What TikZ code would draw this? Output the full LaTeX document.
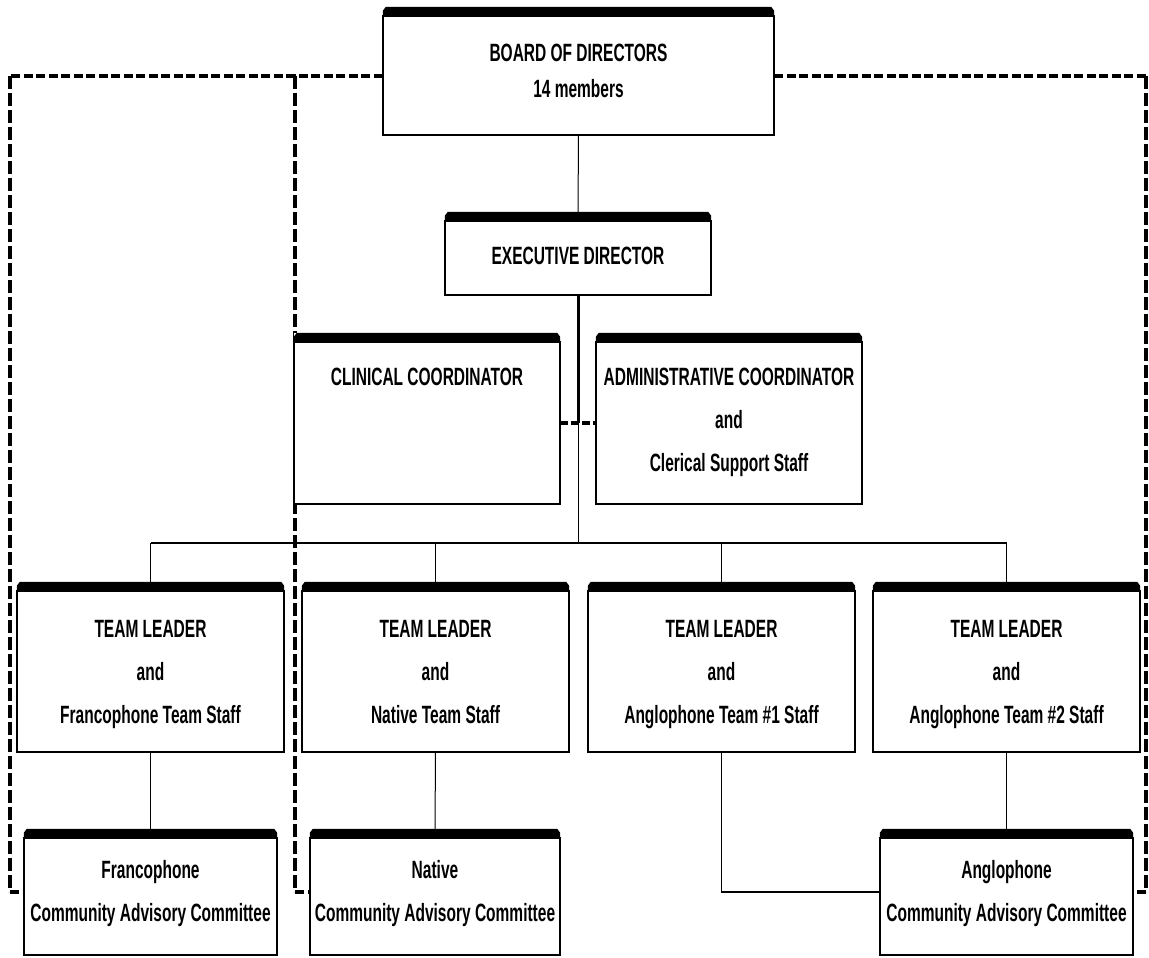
\documentclass[tikz,border=0pt]{standalone}
\usepackage{fontspec}
\setmainfont{Liberation Sans}[FakeStretch=0.62]
\usetikzlibrary{backgrounds}
\newcommand\boxtext[2]{\raisebox{#1}[0pt][0pt]{\begin{tabular}[c]{@{}c@{}}#2\end{tabular}}}
\tikzset{
  obox/.style={fill=white, inner sep=0pt, align=center,
    font=\bfseries\fontsize{25}{43}\selectfont},
  hdash/.style={line width=4pt, dash pattern=on 9pt off 3.5pt},
  vdash/.style={line width=3.2pt, dash pattern=on 13pt off 4pt},
  jdash/.style={line width=4pt, dash pattern=on 8pt off 3pt},
  conn/.style={line width=1pt},
  busline/.style={line width=1.8pt},
  trunk/.style={line width=3pt}
}
\begin{document}
\begin{tikzpicture}[x=1pt,y=-1pt]
\useasboundingbox (0,0) rectangle (1149,958);
% boxes
\node[obox, minimum width=391pt, minimum height=128pt, font=\bfseries\fontsize{25}{36}\selectfont] (board) at (578.5,71) {\boxtext{-7.5pt}{BOARD OF DIRECTORS\\14 members}};
\node[obox, minimum width=266pt, minimum height=83pt] (exec) at (578,253.5) {\boxtext{-8.5pt}{EXECUTIVE DIRECTOR}};
\node[obox, minimum width=266pt, minimum height=171pt] (clin) at (427,418.5) {\boxtext{-7.5pt}{CLINICAL COORDINATOR\\\mbox{}\\\mbox{}}};
\node[obox, minimum width=266pt, minimum height=171pt] (adm) at (729,418.5) {\boxtext{-7.5pt}{ADMINISTRATIVE COORDINATOR\\and\\Clerical Support Staff}};
\node[obox, minimum width=267pt, minimum height=170pt] (t1) at (150.5,667) {\boxtext{-11pt}{TEAM LEADER\\and\\Francophone Team Staff}};
\node[obox, minimum width=267pt, minimum height=170pt] (t2) at (435.5,667) {\boxtext{-11pt}{TEAM LEADER\\and\\Native Team Staff}};
\node[obox, minimum width=267pt, minimum height=170pt] (t3) at (721.5,667) {\boxtext{-11pt}{TEAM LEADER\\and\\Anglophone Team \#1 Staff}};
\node[obox, minimum width=267pt, minimum height=170pt] (t4) at (1006.5,667) {\boxtext{-11pt}{TEAM LEADER\\and\\Anglophone Team \#2 Staff}};
\node[obox, minimum width=253pt, minimum height=126pt] (fc) at (150.5,892) {\boxtext{-5.5pt}{Francophone\\Community Advisory Committee}};
\node[obox, minimum width=250pt, minimum height=126pt] (nc) at (435,892) {\boxtext{-5.5pt}{Native\\Community Advisory Committee}};
\node[obox, minimum width=253pt, minimum height=126pt] (ac) at (1006.5,892) {\boxtext{-5.5pt}{Anglophone\\Community Advisory Committee}};
\foreach \n in {board,exec,clin,adm,t1,t2,t3,t4,fc,nc,ac}{
  \draw[line width=1.6pt] ([yshift=-8pt]\n.north west) -- (\n.south west) -- (\n.south east) -- ([yshift=-8pt]\n.north east);
  \fill ([yshift=-10pt]\n.north west) -- ([yshift=-4pt]\n.north west) -- ([xshift=3pt]\n.north west)
     -- ([xshift=-3pt]\n.north east) -- ([yshift=-4pt]\n.north east) -- ([yshift=-10pt]\n.north east) -- cycle;
}
% connectors
\begin{pgfonlayer}{background}
\coordinate (dl) at (10,76);
\coordinate (dm) at (295,76);
\coordinate (dr) at (1146,76);
\coordinate (j) at (578,423);
\coordinate (bus) at (578,543);
\draw[hdash] (board.west |- dl) -- (dl);
\draw[hdash] (board.west |- dm) -- (dm);
\draw[hdash] (board.east |- dr) -- (dr);
\draw[vdash] (dl) -- (dl |- fc.west);
\draw[vdash] (dm) -- (dm |- nc.west);
\draw[vdash] (dr) -- (dr |- ac.east);
\draw[hdash] (dl |- fc.west) -- (fc.west);
\draw[hdash] (dm |- nc.west) -- (nc.west);
\draw[hdash] (dr |- ac.east) -- (ac.east);
\draw[conn] (board.south) -- (exec.north);
\draw[trunk] (exec.south) -- (j);
\draw[jdash] (clin.east |- j) -- (adm.west |- j);
\draw[conn] (j) -- (bus);
\draw[busline] (t1.north |- bus) -- (t4.north |- bus);
\foreach \t in {t1,t2,t3,t4}{\draw[conn] (\t.north |- bus) -- (\t.north);}
\draw[conn] (t1.south) -- (fc.north);
\draw[conn] (t2.south) -- (nc.north);
\draw[conn] (t4.south) -- (ac.north);
\draw[busline] (t3.south) -- (t3.south |- ac.west) -- (ac.west);
\end{pgfonlayer}
\end{tikzpicture}
\end{document}
